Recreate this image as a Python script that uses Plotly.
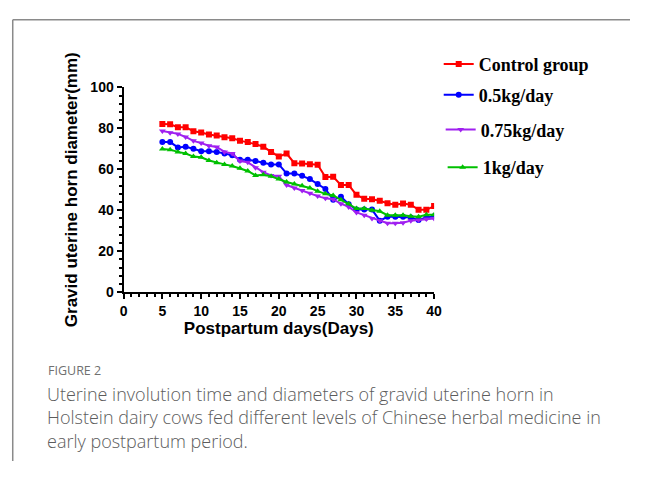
import plotly.graph_objects as go

days = list(range(5, 41))
control = [82.1, 82.0, 80.6, 80.6, 78.6, 78.0, 77.0, 76.5, 75.7, 75.2, 74.0, 73.3, 72.3, 71.0, 68.5,
           66.2, 67.7, 63.0, 62.8, 62.5, 62.2, 56.2, 56.3, 52.3, 52.3, 47.5, 45.6, 45.4, 44.6, 43.4,
           42.7, 43.3, 42.7, 40.2, 40.2, 42.0]
dose05 = [73.3, 73.3, 70.7, 71.0, 70.0, 68.8, 68.8, 68.5, 67.7, 66.9, 64.6, 64.6, 64.0, 63.2, 62.4,
          62.4, 58.0, 58.0, 56.8, 55.2, 52.8, 50.4, 45.1, 46.6, 42.9, 40.3, 40.3, 40.3, 34.9, 36.8,
          36.8, 36.8, 36.5, 35.2, 36.5, 37.1]
dose075 = [78.7, 77.9, 77.3, 75.8, 73.9, 72.8, 71.5, 70.9, 68.5, 67.7, 64.0, 63.4, 60.8, 58.6, 57.0,
           56.6, 52.3, 50.9, 49.6, 48.3, 46.9, 45.8, 45.3, 43.2, 41.6, 38.9, 37.6, 36.0, 34.9, 33.6,
           33.6, 33.9, 34.9, 35.2, 35.7, 36.0]
dose1 = [69.9, 69.6, 68.5, 67.7, 66.2, 65.9, 64.3, 63.2, 62.4, 61.6, 60.5, 59.2, 57.0, 57.3, 56.6,
         55.2, 53.8, 52.8, 52.0, 50.9, 49.3, 48.0, 47.2, 45.1, 43.2, 40.8, 40.8, 40.0, 39.5, 37.6,
         37.6, 37.6, 37.1, 36.8, 37.8, 37.8]

series_names = ["Control group", "0.5kg/day", "0.75kg/day", "1kg/day"]
series_vals = [control, dose05, dose075, dose1]
colors = ["#FF0000", "#0000FF", "#A020F0", "#00C000"]
symbols = ["square", "circle", "triangle-down", "triangle-up"]
legend_ids = ["legend", "legend2", "legend3", "legend4"]

# The page body keeps its default 8px margin, so the figure is 16px smaller than the
# window and every screen position below is written as (screen - 8).
OFF = 8
W, H = 646 - 2 * OFF, 477 - 2 * OFF


def px(x):
    return (x - OFF) / W


def py(y):
    return 1 - (y - OFF) / H


legend_y = [58, 90, 126, 165]
legend_x = [443, 443, 445, 447]
L, R, T, B = 121.7, 438.3, 82, 294

fig = go.Figure()
for name, vals, c, s, lid in zip(series_names, series_vals, colors, symbols, legend_ids):
    fig.add_trace(go.Scatter(
        x=days, y=vals, name=name, mode="lines+markers",
        line=dict(color=c, width=2),
        marker=dict(color=c, symbol=s, size=6),
        legend=lid,
    ))

axis_font = dict(family="Liberation Sans, Arial", size=14, color="black", weight="bold")
title_font = dict(family="Liberation Sans, Arial", size=17, color="black", weight="bold")

layout_legends = {}
for lid, ly, lx in zip(legend_ids, legend_y, legend_x):
    layout_legends[lid] = dict(
        x=px(lx), y=py(ly), xref="paper", yref="paper",
        xanchor="left", yanchor="middle",
        font=dict(family="Liberation Serif, Times New Roman", size=18, color="black", weight="bold"),
        bgcolor="rgba(0,0,0,0)", itemwidth=30,
    )

fig.update_layout(
    width=W, height=H,
    margin=dict(l=0, r=0, t=0, b=0),
    paper_bgcolor="white", plot_bgcolor="white",
    showlegend=True,
    **layout_legends,
    xaxis=dict(
        domain=[px(L), px(R)], range=[0, 40], tickmode="linear", tick0=0, dtick=5,
        showline=True, linecolor="black", linewidth=2, ticks="outside", ticklen=5,
        tickwidth=2, tickcolor="black", showgrid=False, zeroline=False,
        tickfont=axis_font,
        minor=dict(ticks="outside", dtick=1, ticklen=3, tickwidth=1.5, tickcolor="black", showgrid=False),
        title=dict(text="Postpartum days(Days)", font=title_font, standoff=4),
    ),
    yaxis=dict(
        domain=[py(B), py(T)], range=[0, 100], tickmode="linear", tick0=0, dtick=20,
        showline=True, linecolor="black", linewidth=2, ticks="outside", ticklen=5,
        tickwidth=2, tickcolor="black", showgrid=False, zeroline=False,
        tickfont=axis_font,
        minor=dict(ticks="outside", dtick=4, ticklen=3, tickwidth=1.5, tickcolor="black", showgrid=False),
        title=dict(text="Gravid uterine horn diameter(mm)", font=title_font, standoff=8),
    ),
)

# page frame
fig.add_shape(type="line", xref="paper", yref="paper", x0=px(8.75), x1=1, y0=py(12), y1=py(12),
              line=dict(color="#8a8a8a", width=1.5))
fig.add_shape(type="line", xref="paper", yref="paper", x0=px(8.75), x1=px(8.75), y0=0, y1=py(12),
              line=dict(color="#8a8a8a", width=1.5))

fig.add_annotation(text="FIGURE 2", xref="paper", yref="paper", x=px(43), y=py(375),
                   xanchor="left", yanchor="middle", showarrow=False,
                   font=dict(family="Open Sans, Lato", size=12.5, color="#707070"))
caption_lines = [
    "Uterine involution time and diameters of gravid uterine horn in",
    "Holstein dairy cows fed different levels of Chinese herbal medicine in",
    "early postpartum period.",
]
fig.add_annotation(text="<br>".join(caption_lines), xref="paper", yref="paper", x=px(42), y=py(423.5),
                   xanchor="left", yanchor="middle", align="left", showarrow=False,
                   font=dict(family="Open Sans, Lato", size=18, color="#5c5c5c", weight=300))

fig.write_html("out.html", config={"displayModeBar": False})
